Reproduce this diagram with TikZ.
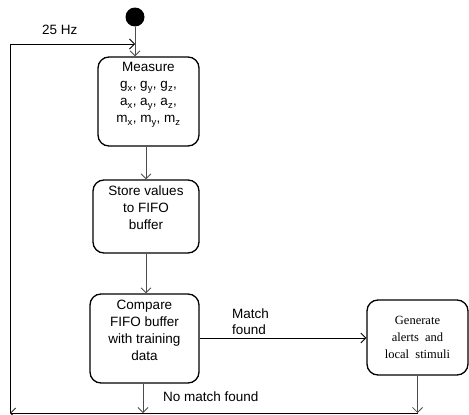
\documentclass[tikz,border=0pt]{standalone}
\usepackage{fontspec}
\setmainfont{Liberation Sans}
\newfontfamily\serifgen{Liberation Serif}
\usetikzlibrary{arrows.meta}
\begin{document}
\begin{tikzpicture}[x=1pt,y=-1pt,
  box/.style={draw=black,line width=1.3pt,rounded corners=11pt,inner sep=0pt},
  txt/.style={font=\fontsize{13.5}{17}\selectfont,align=center,inner sep=0pt,anchor=north},
  lbl/.style={font=\fontsize{13.5}{16}\selectfont,align=left,inner sep=0pt},
  tip/.style={-{Straight Barb[length=5pt,width=10pt,line width=0.8pt]}},
  vline/.style={draw=black!70,line width=0.9pt},
  hline/.style={draw=black,line width=0.9pt}]
\useasboundingbox (0,0) rectangle (469,415);
% start
\node[circle,fill=black,minimum size=19pt,inner sep=0pt] (start) at (135,17) {};
% boxes
\node[box,minimum width=101pt,minimum height=89pt] (measure) at (148.5,101.5) {};
\node[txt] (measuret) at (148.5,62.5) {Measure\\g\textsubscript{x}, g\textsubscript{y}, g\textsubscript{z},\\a\textsubscript{x}, a\textsubscript{y}, a\textsubscript{z},\\m\textsubscript{x}, m\textsubscript{y}, m\textsubscript{z}};
\node[box,minimum width=106pt,minimum height=73pt] (store) at (146,216.5) {};
\node[txt] (storet) at (146,185.5) {Store values\\to FIFO\\buffer};
\node[box,minimum width=109pt,minimum height=89pt] (compare) at (144.5,338.5) {};
\node[txt] (comparet) at (144.5,299.5) {Compare\\FIFO buffer\\with training\\data};
\node[box,minimum width=101pt,minimum height=75pt,align=center,
      font=\serifgen\fontsize{12.5}{17}\selectfont] (gen) at (417.5,337.5)
      {Generate\\alerts\ \ and\\local\ \ stimuli};
% labels
\node[lbl,anchor=west] (hz) at (42,30) {25 Hz};
\node[lbl,anchor=west] (mf) at (232,322) {Match\\found};
\node[lbl,anchor=west] (nmf) at (163,397) {No match found};
% coordinates of the loop
\coordinate (bl) at (10,413);
\coordinate (tl) at (10,44);
\coordinate (entry) at (135,44);
% connectors
\draw[vline,tip] (start) -- (start |- measure.north);
\draw[vline,tip] (measure.south -| 146,0) -- (store.north -| 146,0);
\draw[vline,tip] (store.south -| 146,0) -- (compare.north -| 146,0);
\draw[vline,tip] (compare.south -| 143,0) -- (bl -| 143,0);
\draw[vline,tip] (gen.south) -- (gen.south |- bl);
\draw[hline,tip] (compare.east |- 0,338) -- (gen.west |- 0,338);
\draw[hline,tip] (gen.south |- bl) -- (bl);
\draw[hline,tip] (bl) -- (tl) -- (entry);
\end{tikzpicture}
\end{document}
